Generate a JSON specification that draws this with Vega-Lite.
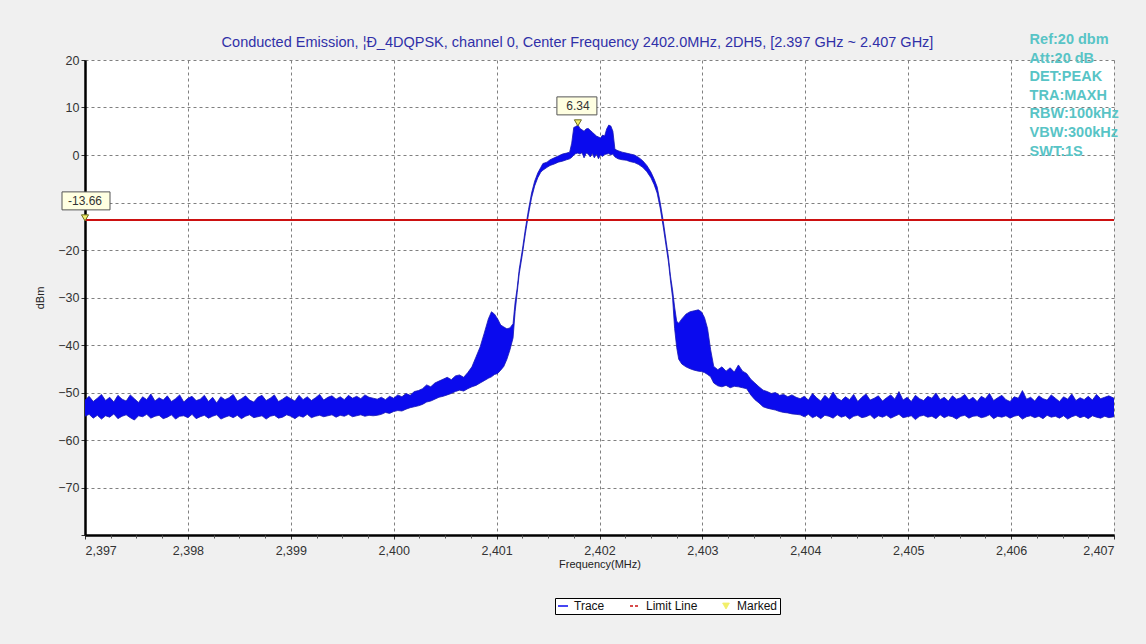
{
  "$schema": "https://vega.github.io/schema/vega-lite/v6.json",
  "width": 1029,
  "height": 475,
  "autosize": {"type": "none"},
  "padding": {"left": 85, "top": 60, "right": 32, "bottom": 109},
  "background": "#f0f0f0",
  "view": {"fill": "white", "stroke": null},
  "config": {"font": "Liberation Sans"},
  "resolve": {"axis": {"x": "independent"}},
  "title": {
    "text": "Conducted Emission, ¦Ð_4DQPSK, channel 0, Center Frequency 2402.0MHz, 2DH5, [2.397 GHz ~ 2.407 GHz]",
    "fontSize": 14.5,
    "fontWeight": "normal",
    "font": "Liberation Sans",
    "color": "#3030a8",
    "anchor": "middle",
    "frame": "group",
    "dx": -22,
    "offset": -19
  },
  "datasets": {
    "trace": [
      {"freq":2397.00,"hi":-51.6,"lo":-55.0},{"freq":2397.04,"hi":-50.8,"lo":-54.6},{"freq":2397.08,"hi":-51.9,"lo":-55.4},{"freq":2397.12,"hi":-51.2,"lo":-54.8},{"freq":2397.16,"hi":-50.4,"lo":-55.6},
      {"freq":2397.20,"hi":-51.7,"lo":-54.9},{"freq":2397.24,"hi":-51.0,"lo":-55.2},{"freq":2397.28,"hi":-52.0,"lo":-54.5},{"freq":2397.32,"hi":-50.6,"lo":-55.5},{"freq":2397.36,"hi":-51.4,"lo":-55.0},
      {"freq":2397.40,"hi":-51.8,"lo":-54.7},{"freq":2397.44,"hi":-50.5,"lo":-55.3},{"freq":2397.48,"hi":-51.3,"lo":-55.8},{"freq":2397.52,"hi":-52.1,"lo":-54.9},{"freq":2397.56,"hi":-50.9,"lo":-55.1},
      {"freq":2397.60,"hi":-51.5,"lo":-54.6},{"freq":2397.64,"hi":-50.3,"lo":-55.4},{"freq":2397.68,"hi":-51.8,"lo":-55.0},{"freq":2397.72,"hi":-51.1,"lo":-54.8},{"freq":2397.76,"hi":-51.6,"lo":-55.5},
      {"freq":2397.80,"hi":-50.7,"lo":-55.2},{"freq":2397.84,"hi":-51.9,"lo":-54.7},{"freq":2397.88,"hi":-51.3,"lo":-55.6},{"freq":2397.92,"hi":-50.5,"lo":-55.0},{"freq":2397.96,"hi":-52.0,"lo":-54.9},
      {"freq":2398.00,"hi":-51.2,"lo":-55.3},{"freq":2398.04,"hi":-50.8,"lo":-54.6},{"freq":2398.08,"hi":-51.7,"lo":-55.5},{"freq":2398.12,"hi":-51.4,"lo":-55.1},{"freq":2398.16,"hi":-50.6,"lo":-54.8},
      {"freq":2398.20,"hi":-51.9,"lo":-55.4},{"freq":2398.24,"hi":-51.0,"lo":-55.0},{"freq":2398.28,"hi":-52.2,"lo":-54.7},{"freq":2398.32,"hi":-50.9,"lo":-55.6},{"freq":2398.36,"hi":-51.5,"lo":-55.2},
      {"freq":2398.40,"hi":-51.1,"lo":-54.9},{"freq":2398.44,"hi":-50.4,"lo":-55.3},{"freq":2398.48,"hi":-51.8,"lo":-54.8},{"freq":2398.52,"hi":-51.3,"lo":-55.5},{"freq":2398.56,"hi":-50.7,"lo":-55.0},
      {"freq":2398.60,"hi":-51.6,"lo":-54.7},{"freq":2398.64,"hi":-52.0,"lo":-55.3},{"freq":2398.68,"hi":-51.0,"lo":-55.1},{"freq":2398.72,"hi":-50.6,"lo":-54.9},{"freq":2398.76,"hi":-51.7,"lo":-55.6},
      {"freq":2398.80,"hi":-51.2,"lo":-55.0},{"freq":2398.84,"hi":-50.5,"lo":-54.8},{"freq":2398.88,"hi":-51.9,"lo":-55.4},{"freq":2398.92,"hi":-51.4,"lo":-55.2},{"freq":2398.96,"hi":-50.8,"lo":-54.7},
      {"freq":2399.00,"hi":-51.3,"lo":-55.0},{"freq":2399.04,"hi":-51.8,"lo":-55.5},{"freq":2399.08,"hi":-50.6,"lo":-54.9},{"freq":2399.12,"hi":-51.5,"lo":-55.2},{"freq":2399.16,"hi":-50.9,"lo":-54.6},
      {"freq":2399.20,"hi":-51.7,"lo":-55.3},{"freq":2399.24,"hi":-51.1,"lo":-55.0},{"freq":2399.28,"hi":-50.4,"lo":-54.8},{"freq":2399.32,"hi":-51.6,"lo":-55.1},{"freq":2399.36,"hi":-51.0,"lo":-54.9},
      {"freq":2399.40,"hi":-50.7,"lo":-54.7},{"freq":2399.44,"hi":-51.4,"lo":-55.2},{"freq":2399.48,"hi":-50.9,"lo":-54.8},{"freq":2399.52,"hi":-51.5,"lo":-55.0},{"freq":2399.56,"hi":-50.6,"lo":-54.6},
      {"freq":2399.60,"hi":-51.2,"lo":-55.1},{"freq":2399.64,"hi":-50.8,"lo":-54.9},{"freq":2399.68,"hi":-51.3,"lo":-54.7},{"freq":2399.72,"hi":-50.5,"lo":-55.0},{"freq":2399.76,"hi":-51.0,"lo":-54.8},
      {"freq":2399.80,"hi":-51.2,"lo":-54.9},
      {"freq":2399.84,"hi":-51.4,"lo":-54.8},{"freq":2399.88,"hi":-51.0,"lo":-54.6},{"freq":2399.92,"hi":-51.5,"lo":-54.2},{"freq":2399.96,"hi":-50.8,"lo":-54.4},{"freq":2400.00,"hi":-51.2,"lo":-54.0},
      {"freq":2400.04,"hi":-50.5,"lo":-53.8},{"freq":2400.08,"hi":-50.9,"lo":-53.9},{"freq":2400.12,"hi":-50.2,"lo":-53.5},{"freq":2400.16,"hi":-50.6,"lo":-53.2},{"freq":2400.20,"hi":-49.8,"lo":-53.0},
      {"freq":2400.24,"hi":-49.6,"lo":-52.8},{"freq":2400.28,"hi":-49.2,"lo":-52.5},{"freq":2400.32,"hi":-48.4,"lo":-52.0},{"freq":2400.36,"hi":-48.8,"lo":-51.8},{"freq":2400.40,"hi":-48.0,"lo":-51.4},
      {"freq":2400.44,"hi":-47.6,"lo":-51.0},{"freq":2400.48,"hi":-47.2,"lo":-50.8},{"freq":2400.52,"hi":-46.8,"lo":-50.5},{"freq":2400.56,"hi":-47.3,"lo":-50.2},{"freq":2400.60,"hi":-46.5,"lo":-49.8},
      {"freq":2400.64,"hi":-46.3,"lo":-49.5},{"freq":2400.68,"hi":-46.8,"lo":-49.7},{"freq":2400.72,"hi":-45.8,"lo":-49.2},{"freq":2400.76,"hi":-44.6,"lo":-48.8},{"freq":2400.80,"hi":-42.5,"lo":-48.5},
      {"freq":2400.84,"hi":-40.4,"lo":-48.0},{"freq":2400.88,"hi":-37.5,"lo":-47.5},{"freq":2400.92,"hi":-34.5,"lo":-47.0},{"freq":2400.95,"hi":-33.0,"lo":-46.7},{"freq":2400.98,"hi":-33.5,"lo":-46.2},
      {"freq":2401.01,"hi":-34.5,"lo":-46.0},{"freq":2401.04,"hi":-35.8,"lo":-45.3},{"freq":2401.07,"hi":-36.2,"lo":-44.5},{"freq":2401.10,"hi":-36.6,"lo":-43.0},{"freq":2401.13,"hi":-36.4,"lo":-41.0},
      {"freq":2401.16,"hi":-35.5,"lo":-38.5},{"freq":2401.18,"hi":-31.0,"lo":-33.0},{"freq":2401.20,"hi":-28.0,"lo":-29.0},{"freq":2401.22,"hi":-24.0,"lo":-25.0},{"freq":2401.25,"hi":-20.0,"lo":-21.0},
      {"freq":2401.28,"hi":-15.5,"lo":-16.5},{"freq":2401.31,"hi":-11.5,"lo":-12.5},{"freq":2401.34,"hi":-8.0,"lo":-9.0},{"freq":2401.37,"hi":-5.5,"lo":-6.5},{"freq":2401.40,"hi":-3.8,"lo":-4.8},
      {"freq":2401.43,"hi":-2.6,"lo":-3.6},{"freq":2401.45,"hi":-1.8,"lo":-3.2},{"freq":2401.49,"hi":-1.5,"lo":-2.6},{"freq":2401.52,"hi":-1.0,"lo":-2.2},{"freq":2401.56,"hi":-0.6,"lo":-1.9},
      {"freq":2401.60,"hi":-0.2,"lo":-1.5},{"freq":2401.64,"hi":0.2,"lo":-1.3},{"freq":2401.68,"hi":0.4,"lo":-1.0},{"freq":2401.71,"hi":0.6,"lo":-0.8},{"freq":2401.73,"hi":2.5,"lo":-0.5},
      {"freq":2401.75,"hi":5.8,"lo":0.0},{"freq":2401.77,"hi":6.0,"lo":0.3},{"freq":2401.79,"hi":6.34,"lo":0.4},{"freq":2401.81,"hi":5.6,"lo":0.2},{"freq":2401.83,"hi":5.3,"lo":0.5},
      {"freq":2401.85,"hi":5.0,"lo":-0.6},{"freq":2401.87,"hi":5.5,"lo":0.4},{"freq":2401.89,"hi":5.6,"lo":0.2},{"freq":2401.91,"hi":5.2,"lo":-0.4},{"freq":2401.93,"hi":4.8,"lo":0.3},
      {"freq":2401.95,"hi":4.4,"lo":-0.6},{"freq":2401.97,"hi":4.0,"lo":0.2},{"freq":2401.99,"hi":3.8,"lo":-0.8},{"freq":2402.01,"hi":3.6,"lo":0.0},{"freq":2402.03,"hi":4.2,"lo":-0.3},
      {"freq":2402.05,"hi":4.0,"lo":0.1},{"freq":2402.07,"hi":5.5,"lo":0.2},{"freq":2402.09,"hi":6.3,"lo":0.3},{"freq":2402.11,"hi":6.1,"lo":0.0},{"freq":2402.13,"hi":5.0,"lo":0.2},
      {"freq":2402.15,"hi":1.2,"lo":-0.4},{"freq":2402.18,"hi":0.9,"lo":-0.8},{"freq":2402.22,"hi":0.6,"lo":-1.0},{"freq":2402.26,"hi":0.4,"lo":-1.1},{"freq":2402.30,"hi":0.2,"lo":-1.4},
      {"freq":2402.34,"hi":0.0,"lo":-1.6},{"freq":2402.38,"hi":-0.5,"lo":-2.0},{"freq":2402.42,"hi":-1.2,"lo":-2.6},{"freq":2402.46,"hi":-2.2,"lo":-3.5},{"freq":2402.50,"hi":-3.6,"lo":-4.8},
      {"freq":2402.53,"hi":-5.0,"lo":-6.2},{"freq":2402.56,"hi":-6.7,"lo":-8.0},{"freq":2402.59,"hi":-10.0,"lo":-11.2},{"freq":2402.62,"hi":-14.0,"lo":-15.2},{"freq":2402.65,"hi":-18.5,"lo":-19.6},
      {"freq":2402.67,"hi":-21.5,"lo":-22.5},{"freq":2402.69,"hi":-25.5,"lo":-26.5},{"freq":2402.71,"hi":-28.4,"lo":-30.0},{"freq":2402.73,"hi":-32.0,"lo":-36.5},{"freq":2402.75,"hi":-35.0,"lo":-40.5},
      {"freq":2402.77,"hi":-35.4,"lo":-43.0},{"freq":2402.80,"hi":-34.5,"lo":-44.0},{"freq":2402.84,"hi":-33.5,"lo":-44.6},{"freq":2402.88,"hi":-33.0,"lo":-45.0},{"freq":2402.92,"hi":-32.8,"lo":-45.3},
      {"freq":2402.96,"hi":-32.6,"lo":-45.5},{"freq":2402.99,"hi":-33.0,"lo":-45.6},{"freq":2403.02,"hi":-34.2,"lo":-45.8},{"freq":2403.05,"hi":-36.5,"lo":-46.2},{"freq":2403.08,"hi":-41.0,"lo":-46.7},
      {"freq":2403.11,"hi":-44.5,"lo":-48.0},{"freq":2403.15,"hi":-45.2,"lo":-48.6},{"freq":2403.19,"hi":-44.6,"lo":-48.8},{"freq":2403.23,"hi":-45.5,"lo":-48.5},{"freq":2403.27,"hi":-44.8,"lo":-49.0},
      {"freq":2403.31,"hi":-45.7,"lo":-48.7},{"freq":2403.35,"hi":-44.2,"lo":-48.8},{"freq":2403.39,"hi":-45.5,"lo":-49.0},{"freq":2403.43,"hi":-46.0,"lo":-49.2},{"freq":2403.47,"hi":-47.2,"lo":-50.5},
      {"freq":2403.51,"hi":-48.0,"lo":-51.5},{"freq":2403.55,"hi":-48.8,"lo":-52.2},{"freq":2403.59,"hi":-49.5,"lo":-53.0},{"freq":2403.63,"hi":-49.8,"lo":-53.3},{"freq":2403.67,"hi":-50.2,"lo":-53.5},
      {"freq":2403.71,"hi":-50.0,"lo":-53.7},{"freq":2403.75,"hi":-50.6,"lo":-54.0},{"freq":2403.79,"hi":-50.4,"lo":-54.2},{"freq":2403.83,"hi":-50.9,"lo":-54.3},{"freq":2403.87,"hi":-50.5,"lo":-54.5},
      {"freq":2403.91,"hi":-51.0,"lo":-54.6},
      {"freq":2403.95,"hi":-51.3,"lo":-54.7},{"freq":2403.99,"hi":-50.8,"lo":-55.1},{"freq":2404.03,"hi":-51.6,"lo":-54.6},{"freq":2404.07,"hi":-50.2,"lo":-55.3},{"freq":2404.11,"hi":-51.1,"lo":-54.9},
      {"freq":2404.15,"hi":-51.8,"lo":-55.5},{"freq":2404.19,"hi":-50.6,"lo":-54.8},{"freq":2404.23,"hi":-51.4,"lo":-55.0},{"freq":2404.27,"hi":-49.9,"lo":-55.4},{"freq":2404.31,"hi":-51.2,"lo":-54.7},
      {"freq":2404.35,"hi":-51.7,"lo":-55.2},{"freq":2404.39,"hi":-50.9,"lo":-54.9},{"freq":2404.43,"hi":-51.5,"lo":-55.6},{"freq":2404.47,"hi":-50.4,"lo":-55.0},{"freq":2404.51,"hi":-51.9,"lo":-54.8},
      {"freq":2404.55,"hi":-51.0,"lo":-55.3},{"freq":2404.59,"hi":-50.3,"lo":-55.1},{"freq":2404.63,"hi":-51.6,"lo":-54.7},{"freq":2404.67,"hi":-51.2,"lo":-55.5},{"freq":2404.71,"hi":-50.7,"lo":-54.9},
      {"freq":2404.75,"hi":-51.8,"lo":-55.2},{"freq":2404.79,"hi":-51.1,"lo":-54.8},{"freq":2404.83,"hi":-50.5,"lo":-55.4},{"freq":2404.87,"hi":-51.4,"lo":-55.0},{"freq":2404.91,"hi":-49.8,"lo":-54.6},
      {"freq":2404.95,"hi":-51.6,"lo":-55.3},{"freq":2404.99,"hi":-51.0,"lo":-55.1},{"freq":2405.03,"hi":-51.9,"lo":-54.9},{"freq":2405.07,"hi":-50.6,"lo":-55.7},{"freq":2405.11,"hi":-51.3,"lo":-55.0},
      {"freq":2405.15,"hi":-51.7,"lo":-54.8},{"freq":2405.19,"hi":-50.8,"lo":-55.2},{"freq":2405.23,"hi":-51.2,"lo":-55.0},{"freq":2405.27,"hi":-50.1,"lo":-55.5},{"freq":2405.31,"hi":-51.5,"lo":-54.7},
      {"freq":2405.35,"hi":-51.0,"lo":-55.3},{"freq":2405.39,"hi":-51.8,"lo":-54.9},{"freq":2405.43,"hi":-50.7,"lo":-55.1},{"freq":2405.47,"hi":-51.4,"lo":-55.6},{"freq":2405.51,"hi":-51.1,"lo":-55.0},
      {"freq":2405.55,"hi":-50.4,"lo":-54.8},{"freq":2405.59,"hi":-51.6,"lo":-55.4},{"freq":2405.63,"hi":-51.0,"lo":-55.0},{"freq":2405.67,"hi":-51.9,"lo":-54.9},{"freq":2405.71,"hi":-50.8,"lo":-55.3},
      {"freq":2405.75,"hi":-51.3,"lo":-55.1},{"freq":2405.79,"hi":-50.2,"lo":-54.7},{"freq":2405.83,"hi":-51.7,"lo":-55.5},{"freq":2405.87,"hi":-51.1,"lo":-55.0},{"freq":2405.91,"hi":-50.6,"lo":-55.2},
      {"freq":2405.95,"hi":-51.5,"lo":-54.9},{"freq":2405.99,"hi":-51.9,"lo":-55.4},{"freq":2406.03,"hi":-50.9,"lo":-55.0},{"freq":2406.07,"hi":-51.2,"lo":-54.8},{"freq":2406.11,"hi":-49.6,"lo":-55.6},
      {"freq":2406.15,"hi":-51.4,"lo":-55.1},{"freq":2406.19,"hi":-51.0,"lo":-54.9},{"freq":2406.23,"hi":-51.8,"lo":-55.3},{"freq":2406.27,"hi":-50.7,"lo":-55.0},{"freq":2406.31,"hi":-51.3,"lo":-55.5},
      {"freq":2406.35,"hi":-51.6,"lo":-54.8},{"freq":2406.39,"hi":-50.5,"lo":-55.2},{"freq":2406.43,"hi":-51.2,"lo":-55.0},{"freq":2406.47,"hi":-51.9,"lo":-55.4},{"freq":2406.51,"hi":-50.9,"lo":-54.9},
      {"freq":2406.55,"hi":-51.4,"lo":-55.6},{"freq":2406.59,"hi":-50.3,"lo":-55.1},{"freq":2406.63,"hi":-51.7,"lo":-54.8},{"freq":2406.67,"hi":-51.1,"lo":-55.3},{"freq":2406.71,"hi":-51.5,"lo":-55.0},
      {"freq":2406.75,"hi":-50.8,"lo":-55.5},{"freq":2406.79,"hi":-51.6,"lo":-54.9},{"freq":2406.83,"hi":-50.4,"lo":-55.2},{"freq":2406.87,"hi":-51.3,"lo":-55.4},{"freq":2406.91,"hi":-51.0,"lo":-55.0},
      {"freq":2406.95,"hi":-50.7,"lo":-55.3},{"freq":2407.00,"hi":-51.2,"lo":-55.1}
    ],
    "markers": [
      {"freq": 2401.79, "level": 6.34, "label": "6.34"},
      {"freq": 2397.0, "level": -13.66, "label": "-13.66"}
    ],
    "notes": [
      {"lines": ["Ref:20 dbm", "Att:20 dB", "DET:PEAK", "TRA:MAXH", "RBW:100kHz", "VBW:300kHz", "SWT:1S"]}
    ]
  },
  "layer": [
    {
      "data": {"name": "trace"},
      "mark": {"type": "area", "interpolate": "linear"},
      "encoding": {
        "x": {
          "field": "freq", "type": "quantitative", "title": "Frequency(MHz)",
          "scale": {"domain": [2397, 2407], "nice": false, "zero": false},
          "axis": {
            "orient": "bottom",
            "values": [2397, 2398, 2399, 2400, 2401, 2402, 2403, 2404, 2405, 2406, 2407],
            "format": ",d",
            "domainColor": "#000000", "domainWidth": 2.5,
            "tickColor": "#333333", "tickSize": 4,
            "grid": true, "gridColor": "#808080", "gridDash": [3, 3], "gridWidth": 1,
            "labelFontSize": 12.5, "labelColor": "#333333", "labelPadding": 5,
            "titleFontSize": 11, "titleFontWeight": "normal", "titleColor": "#222222", "titlePadding": 2
          }
        },
        "y": {
          "field": "hi", "type": "quantitative", "title": "dBm",
          "scale": {"domain": [-80, 20], "nice": false, "zero": false},
          "axis": {
            "values": [-80, -70, -60, -50, -40, -30, -20, -10, 0, 10, 20],
            "labelExpr": "datum.value == -80 || datum.value == -10 ? '' : datum.label",
            "domainColor": "#000000", "domainWidth": 2.5,
            "tickColor": "#333333", "tickSize": 4,
            "grid": true, "gridColor": "#808080", "gridDash": [3, 3], "gridWidth": 1,
            "labelFontSize": 12.5, "labelColor": "#333333", "labelPadding": 2,
            "titleFontSize": 11, "titleFontWeight": "normal", "titleColor": "#222222", "titlePadding": 12
          }
        },
        "y2": {"field": "lo"},
        "color": {
          "datum": "Trace",
          "scale": {"domain": ["Trace", "Limit Line", "Marked"], "range": ["#0a0aee", "#cc1111", "#f2ef6a"]},
          "legend": {
            "title": null,
            "orient": "none", "legendX": 470, "legendY": 538,
            "direction": "horizontal",
            "strokeColor": "#000000", "fillColor": "#ffffff",
            "padding": 2,
            "labelFontSize": 12, "labelColor": "#111111", "labelOffset": 5,
            "columnPadding": 22,
            "symbolSize": 100,
            "encode": {
              "symbols": {
                "update": {
                  "shape": {"signal": "datum.value === 'Marked' ? 'triangle-down' : 'stroke'"},
                  "stroke": {"signal": "datum.value === 'Trace' ? '#1a1a7a' : datum.value === 'Limit Line' ? '#d01010' : '#5a5a10'"},
                  "fill": {"signal": "datum.value === 'Marked' ? '#f2ef6a' : 'transparent'"},
                  "strokeDash": {"signal": "datum.value === 'Limit Line' ? [3, 2] : [1, 0]"},
                  "strokeWidth": {"signal": "datum.value === 'Marked' ? 1 : 1.5"},
                  "size": {"signal": "datum.value === 'Marked' ? 45 : 100"},
                  "opacity": {"value": 1}
                }
              }
            }
          }
        }
      }
    },
    {
      "data": {"name": "trace"},
      "mark": {"type": "line", "color": "#1616b4", "strokeWidth": 0.8},
      "encoding": {
        "x": {
          "field": "freq", "type": "quantitative", "title": null,
          "axis": {
            "orient": "bottom",
            "values": [2397.25, 2397.5, 2397.75, 2398.25, 2398.5, 2398.75, 2399.25, 2399.5, 2399.75, 2400.25, 2400.5, 2400.75, 2401.25, 2401.5, 2401.75, 2402.25, 2402.5, 2402.75, 2403.25, 2403.5, 2403.75, 2404.25, 2404.5, 2404.75, 2405.25, 2405.5, 2405.75, 2406.25, 2406.5, 2406.75],
            "labels": false, "domain": false, "grid": false, "title": null,
            "tickColor": "#555555", "tickSize": 3
          }
        },
        "y": {"field": "hi", "type": "quantitative", "title": "dBm"}
      }
    },
    {
      "data": {"name": "trace"},
      "mark": {"type": "line", "color": "#1616b4", "strokeWidth": 0.8},
      "encoding": {
        "x": {"field": "freq", "type": "quantitative", "axis": null},
        "y": {"field": "lo", "type": "quantitative", "title": "dBm"}
      }
    },
    {
      "data": {"name": "markers"},
      "transform": [{"filter": "datum.label == '-13.66'"}],
      "mark": {"type": "rule", "strokeWidth": 2},
      "encoding": {
        "y": {"field": "level", "type": "quantitative", "title": "dBm"},
        "color": {"datum": "Limit Line"}
      }
    },
    {
      "data": {"name": "markers"},
      "mark": {"type": "point", "shape": "triangle-down", "filled": true, "size": 50, "stroke": "#6b6b20", "strokeWidth": 1, "opacity": 1, "yOffset": -2},
      "encoding": {
        "x": {"field": "freq", "type": "quantitative", "axis": null},
        "y": {"field": "level", "type": "quantitative", "title": "dBm"},
        "color": {"datum": "Marked"}
      }
    },
    {
      "data": {"name": "markers"},
      "transform": [{"filter": "datum.label == '6.34'"}],
      "mark": {"type": "point", "shape": "M-1,-0.45L1,-0.45L1,0.45L-1,0.45Z", "filled": true, "fill": "#ffffe1", "stroke": "#555555", "strokeWidth": 1, "size": 1600, "opacity": 1, "yOffset": -19, "xOffset": -1},
      "encoding": {
        "x": {"field": "freq", "type": "quantitative", "axis": null},
        "y": {"field": "level", "type": "quantitative", "title": "dBm"}
      }
    },
    {
      "data": {"name": "markers"},
      "transform": [{"filter": "datum.label == '-13.66'"}],
      "mark": {"type": "point", "shape": "M-1,-0.375L1,-0.375L1,0.375L-1,0.375Z", "filled": true, "fill": "#ffffe1", "stroke": "#555555", "strokeWidth": 1, "size": 2304, "opacity": 1, "yOffset": -19, "xOffset": 1},
      "encoding": {
        "x": {"field": "freq", "type": "quantitative", "axis": null},
        "y": {"field": "level", "type": "quantitative", "title": "dBm"}
      }
    },
    {
      "data": {"name": "markers"},
      "mark": {"type": "text", "fontSize": 12, "color": "#333333", "align": "center", "baseline": "middle", "yOffset": -19},
      "encoding": {
        "x": {"field": "freq", "type": "quantitative", "axis": null},
        "y": {"field": "level", "type": "quantitative", "title": "dBm"},
        "text": {"field": "label"}
      }
    },
    {
      "data": {"name": "notes"},
      "mark": {"type": "text", "align": "left", "baseline": "top", "fontSize": 14.5, "fontWeight": "bold", "color": "#58c4c6", "lineHeight": 18.6},
      "encoding": {
        "x": {"datum": 2406.18, "type": "quantitative", "axis": null},
        "y": {"datum": 25.7, "type": "quantitative"},
        "text": {"field": "lines"}
      }
    }
  ]
}
